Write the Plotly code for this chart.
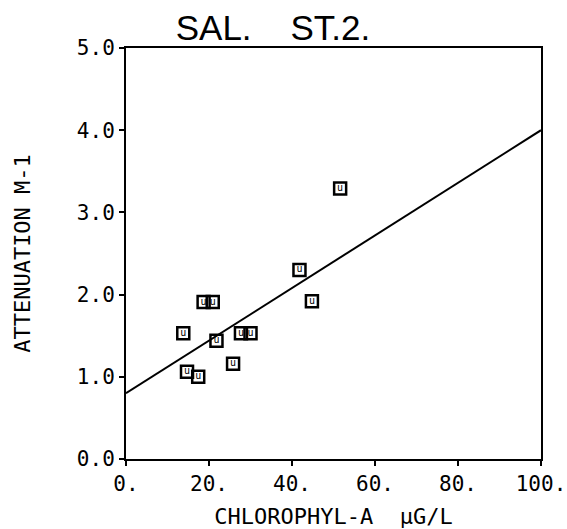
import plotly.graph_objects as go

# Data
chl = [13.8, 14.7, 17.4, 18.7, 20.9, 21.8, 25.8, 27.7, 30.0, 41.8, 44.8, 51.6]
att = [1.53, 1.06, 1.00, 1.91, 1.91, 1.44, 1.16, 1.53, 1.53, 2.30, 1.92, 3.29]
fit_x = [0, 100]
fit_y = [0.80, 4.00]

x_tickvals = [0, 20, 40, 60, 80, 100]
x_ticktext = ["0.", "20.", "40.", "60.", "80.", "100."]
y_tickvals = [0, 1, 2, 3, 4, 5]
y_ticktext = ["0.0", "1.0", "2.0", "3.0", "4.0", "5.0"]

mono = "DejaVu Sans Mono"

fig = go.Figure()
fig.add_trace(go.Scatter(
    x=fit_x, y=fit_y, mode="lines",
    line=dict(color="black", width=2), hoverinfo="skip", showlegend=False))
fig.add_trace(go.Scatter(
    x=chl, y=att, mode="markers+text", text=["u"] * len(chl),
    textposition="middle center",
    textfont=dict(family=mono, size=10, color="black"),
    marker=dict(symbol="square-open", size=12, color="black",
                line=dict(color="black", width=2.5)),
    showlegend=False, cliponaxis=False))

axis_common = dict(
    showline=True, linecolor="black", linewidth=2, mirror=True,
    showgrid=False, zeroline=False, ticks="outside", ticklen=5,
    tickwidth=2, tickcolor="black", automargin=False,
    tickfont=dict(family=mono, size=21, color="black"),
)

fig.update_layout(
    width=567, height=529,
    margin=dict(l=126, r=26, t=48, b=70),
    paper_bgcolor="white", plot_bgcolor="white",
    title=dict(text="SAL.\u00a0\u00a0\u00a0\u00a0ST.2.",
               font=dict(family="Liberation Sans", size=35, color="black"),
               x=273 / 567, xanchor="center", xref="container",
               y=1 - 28 / 529, yanchor="middle", yref="container"),
    xaxis=dict(range=[0, 100], tickvals=x_tickvals, ticktext=x_ticktext,
               title=dict(text="CHLOROPHYL-A  μG/L", standoff=16,
                          font=dict(family=mono, size=22, color="black")),
               **axis_common),
    yaxis=dict(range=[0, 5], tickvals=y_tickvals, ticktext=y_ticktext,
               title=dict(text="ATTENUATION M-1", standoff=40,
                          font=dict(family=mono, size=22, color="black")),
               **axis_common),
)

fig.write_html("out.html")
